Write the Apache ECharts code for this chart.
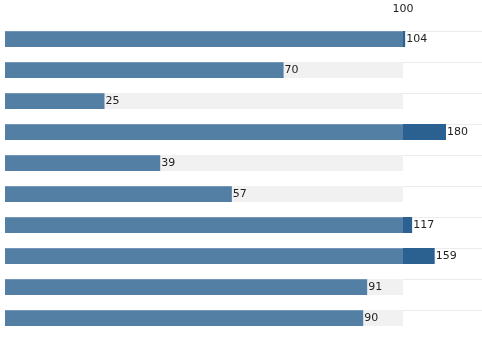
<!DOCTYPE html>
<html>
<head>
<meta charset="utf-8">
<script src="https://cdn.jsdelivr.net/npm/echarts@6/dist/echarts.min.js"></script>
<style>
  html, body { margin: 0; padding: 0; background: #fff; }
  #chart { width: 482px; height: 352px; }
</style>
</head>
<body>
<div id="chart"></div>
<script>
// rows, top to bottom
var categories = ["A", "B", "C", "D", "E", "F", "G", "H", "I", "J"];
var values = [104, 70, 25, 180, 39, 57, 117, 159, 91, 90];
var target = 100;
var overflowMax = 147;

// split each value into the part up to target and the part above it
var baseData = values.map(function (v) {
  return { value: Math.min(v, target), label: { show: v <= target } };
});
var overData = values.map(function (v) {
  return { value: Math.max(v - target, 0), label: { show: v > target } };
});

var labelStyle = {
  position: "right",
  distance: 1,
  color: "#222",
  fontSize: 11,
  fontFamily: "DejaVu Sans",
  formatter: function (p) {
    return values[p.dataIndex];
  },
};

var chart = echarts.init(document.getElementById("chart"));
chart.setOption({
  animation: false,
  grid: [
    { left: 5, width: 398, top: 23.5, height: 310 },
    { left: 403, width: 79, top: 23.5, height: 310 },
    // only for the thin row lines on the right
    { left: 403, right: 0, top: 31, height: 310 },
  ],
  xAxis: [
    {
      gridIndex: 0,
      type: "value",
      position: "top",
      min: 0,
      max: target,
      interval: target,
      axisLine: { show: false },
      axisTick: { show: false },
      splitLine: { show: false },
      axisLabel: {
        showMinLabel: false,
        margin: 9,
        color: "#222",
        fontSize: 11,
        fontFamily: "DejaVu Sans",
      },
    },
    { gridIndex: 1, type: "value", min: 0, max: overflowMax, show: false },
    { gridIndex: 2, type: "value", min: 0, max: 1, show: false },
  ],
  yAxis: [
    { gridIndex: 0, type: "category", data: categories, inverse: true, show: false },
    { gridIndex: 1, type: "category", data: categories, inverse: true, show: false },
    {
      gridIndex: 2,
      type: "category",
      data: categories,
      inverse: true,
      axisLine: { show: false },
      axisTick: { show: false },
      axisLabel: { show: false },
      splitLine: {
        show: true,
        showMinLine: true,
        showMaxLine: false,
        lineStyle: { color: "#ebebeb", width: 1 },
      },
    },
  ],
  series: [
    {
      type: "bar",
      xAxisIndex: 0,
      yAxisIndex: 0,
      barWidth: 16,
      z: 3,
      showBackground: true,
      backgroundStyle: { color: "#f1f1f1" },
      itemStyle: {
        color: {
          type: "linear",
          x: 0, y: 0, x2: 0, y2: 1,
          colorStops: [
            { offset: 0, color: "#7396b9" },
            { offset: 0.06, color: "#7396b9" },
            { offset: 0.07, color: "#547fa5" },
            { offset: 1, color: "#547fa5" },
          ],
        },
      },
      label: labelStyle,
      data: baseData,
    },
    {
      type: "bar",
      xAxisIndex: 1,
      yAxisIndex: 1,
      barWidth: 16,
      z: 3,
      itemStyle: { color: "#2b6190" },
      label: labelStyle,
      data: overData,
    },
  ],
});
</script>
</body>
</html>
